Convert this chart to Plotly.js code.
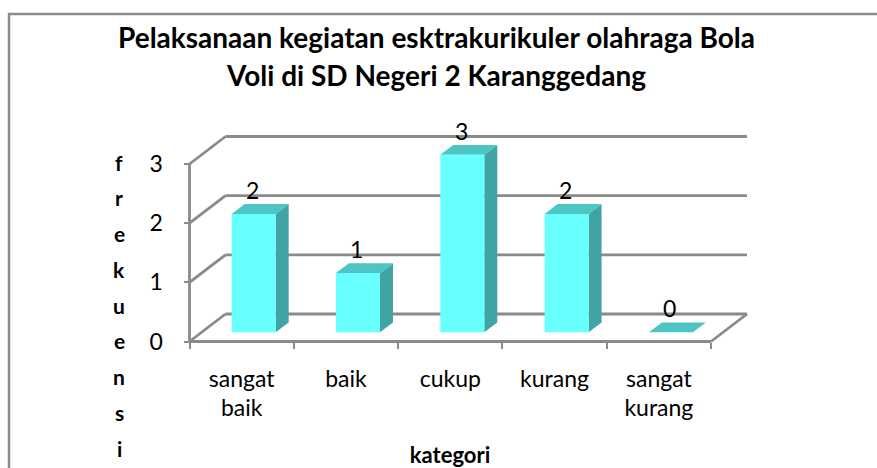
<!DOCTYPE html>
<html><head><meta charset="utf-8">
<script src="https://cdn.plot.ly/plotly-3.0.1.min.js"></script>
<style>html,body{margin:0;padding:0;background:#fff;} #chart{width:877px;height:468px;}</style>
</head><body><div id="chart"></div>
<script>
// ---- data ----
const categories = ['sangat baik', 'baik', 'cukup', 'kurang', 'sangat kurang'];
const tickLabels = ['sangat<br>baik', 'baik', 'cukup', 'kurang', 'sangat<br>kurang'];
const frekuensi = [2, 1, 3, 2, 0];
const yTicks = [0, 1, 2, 3];
const titleLines = ['Pelaksanaan kegiatan esktrakurikuler olahraga Bola', 'Voli di SD Negeri 2 Karanggedang'];
const yTitle = 'frekuensi';
const xTitle = 'kategori';

// ---- geometry (pixels) ----
const W = 877, H = 468;
const L = 149, R = 751, T = 110, B = 355;
const AX0 = 189.5, AY0 = 341.5;          // front-plane origin
const CAT_PX = 104.3, UNIT_PX = 59.17;   // px per category / per unit
const DEPTH_DX = 36, DEPTH_DY = 27.5;    // back wall offset
const BAR_FRONT = 0.335, BAR_DEPTH = 0.36, BAR_W = 0.422;

const FONT = 'Lato, "Open Sans", sans-serif';
const GRID = '#8a8a8a';
const FRONT = '#68FFFF', SIDE = '#41A4A4', TOP = '#4EC5C5';

const xr = [-0.5 - (AX0 - L) / CAT_PX, -0.5 + (R - AX0) / CAT_PX];
const yr = [-(B - AY0) / UNIT_PX, (AY0 - T) / UNIT_PX];
const dX = d => d * DEPTH_DX / CAT_PX;
const dY = d => d * DEPTH_DY / UNIT_PX;
const px2x = p => (p - L) / (R - L);
const py2y = p => (B - p) / (B - T);

const n = categories.length;
const xLeft = -0.5, xRight = n - 0.5;
const barShift = dX(BAR_FRONT);
const barBase = dY(BAR_FRONT);
const ddx = dX(BAR_DEPTH), ddy = dY(BAR_DEPTH);
const backX = dX(1), backY = dY(1);
const yMax = yTicks[yTicks.length - 1];

const shapes = [];
// outer chart border
shapes.push({type: 'rect', xref: 'paper', yref: 'paper', layer: 'below',
  x0: px2x(9), x1: px2x(W + 20), y0: py2y(H + 20), y1: py2y(14),
  line: {color: '#8c8c8c', width: 2.5}, fillcolor: 'rgba(0,0,0,0)'});
const ln = (x0, y0, x1, y1) => ({type: 'line', xref: 'x', yref: 'y', layer: 'below',
  x0, y0, x1, y1, line: {color: GRID, width: 2.8}});
// back wall gridlines and side wall diagonals
yTicks.forEach(v => {
  shapes.push(ln(xLeft + backX, v + backY, xRight + backX, v + backY));
  shapes.push(ln(xLeft, v, xLeft + backX, v + backY));
});
// floor right edge, floor front edge, front vertical axis
shapes.push(ln(xRight, 0, xRight + backX, backY));
shapes.push(ln(xLeft, 0, xRight, 0));
shapes.push(ln(xLeft, 0, xLeft, yMax));

// bar side and top faces
frekuensi.forEach((v, i) => {
  const xl = i + barShift - BAR_W / 2, xrr = xl + BAR_W;
  const yb = barBase, yt = barBase + v;
  if (v > 0) {
    shapes.push({type: 'path', xref: 'x', yref: 'y', layer: 'below',
      path: `M${xrr},${yb} L${xrr},${yt} L${xrr + ddx},${yt + ddy} L${xrr + ddx},${yb + ddy} Z`,
      fillcolor: SIDE, line: {width: 0}});
  }
  shapes.push({type: 'path', xref: 'x', yref: 'y', layer: 'below',
    path: `M${xl},${yt} L${xrr},${yt} L${xrr + ddx},${yt + ddy} L${xl + ddx},${yt + ddy} Z`,
    fillcolor: TOP, line: {width: 0}});
});

const annotations = [];
// title lines
titleLines.forEach((t, k) => annotations.push({
  text: t, xref: 'paper', yref: 'paper', x: px2x(436), y: py2y(37 + k * 38),
  xanchor: 'center', yanchor: 'middle', showarrow: false,
  font: {family: FONT, size: 28, color: '#000', weight: 'bold'}}));
// y title (stacked letters)
yTitle.split('').forEach((c, k) => annotations.push({
  text: '<b>' + c + '</b>', xref: 'paper', yref: 'paper', x: px2x(119), y: py2y(162 + k * 35.75),
  xanchor: 'center', yanchor: 'middle', showarrow: false,
  font: {family: FONT, size: 21, color: '#000'}}));
// data labels
frekuensi.forEach((v, i) => annotations.push({
  text: String(v), xref: 'x', yref: 'y', x: i + barShift - 0.01, y: barBase + v,
  yshift: 24, xanchor: 'center', yanchor: 'middle', showarrow: false,
  font: {family: FONT, size: 23, color: '#000'}}));

const data = [{
  type: 'bar', x: categories, y: frekuensi, base: barBase,
  width: BAR_W, offset: barShift - BAR_W / 2,
  marker: {color: FRONT, line: {width: 0}},
  hoverinfo: 'none', textposition: 'none', showlegend: false
}];

const layout = {
  width: W, height: H,
  margin: {l: L, r: W - R, t: T, b: H - B, pad: 0},
  paper_bgcolor: '#fff', plot_bgcolor: 'rgba(0,0,0,0)',
  showlegend: false,
  xaxis: {type: 'category', range: xr, anchor: 'free', position: py2y(AY0),
    tickmode: 'array', tickvals: categories, ticktext: tickLabels, tickson: 'boundaries',
    ticks: 'outside', ticklen: 6, tickwidth: 2, tickcolor: GRID,
    showgrid: false, zeroline: false, showline: false,
    ticklabelstandoff: 21,
    tickfont: {family: FONT, size: 23, color: '#000'},
    title: {text: '<b>' + xTitle + '</b>', standoff: 28, font: {family: FONT, size: 22, color: '#000'}}},
  yaxis: {range: yr, anchor: 'free', position: px2x(AX0),
    tickmode: 'array', tickvals: yTicks,
    ticks: 'outside', ticklen: 6, tickwidth: 2, tickcolor: GRID,
    showgrid: false, zeroline: false, showline: false,
    ticklabelstandoff: 16,
    tickfont: {family: FONT, size: 23, color: '#000'}},
  shapes, annotations
};

Plotly.newPlot('chart', data, layout, {staticPlot: true, displayModeBar: false});
</script>
</body></html>
